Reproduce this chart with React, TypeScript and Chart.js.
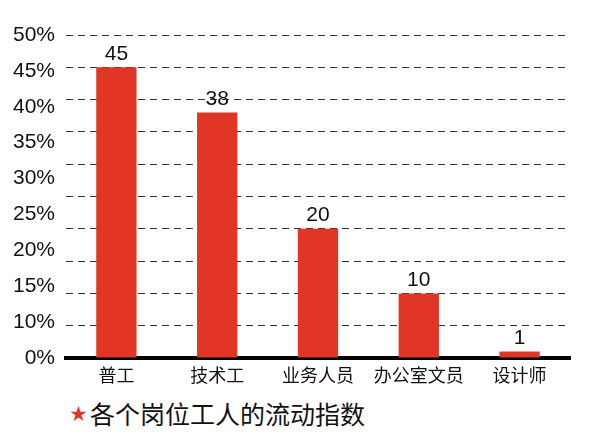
import React, { useEffect, useRef } from 'react';
import { Chart, registerables } from 'chart.js';

Chart.register(...registerables);

const categories = ['普工', '技术工', '业务人员', '办公室文员', '设计师'];
const values = [45, 38, 20, 10, 1];
const valueLabels = ['45', '38', '20', '10', '1'];
// tick labels as printed on the left side (evenly spaced, no 5%)
const yTickLabels = ['0%', '10%', '15%', '20%', '25%', '30%', '35%', '40%', '45%', '50%'];
const title = '各个岗位工人的流动指数';

const barColor = '#e13526';

const valueLabelPlugin = {
  id: 'valueLabels',
  afterDatasetsDraw(chart: Chart) {
    const ctx = chart.ctx;
    const meta = chart.getDatasetMeta(0);
    ctx.save();
    ctx.font = '21px "Liberation Sans", Arial, sans-serif';
    ctx.fillStyle = '#111';
    ctx.textAlign = 'center';
    ctx.textBaseline = 'bottom';
    meta.data.forEach((bar: any, i: number) => {
      ctx.fillText(valueLabels[i], bar.x, bar.y - 3);
    });
    ctx.restore();
  },
};

export default function App() {
  const ref = useRef<HTMLCanvasElement>(null);
  const chartRef = useRef<Chart | null>(null);

  useEffect(() => {
    document.body.style.margin = '0';
    if (!ref.current) return;
    const ctx = ref.current.getContext('2d');
    if (!ctx) return;

    chartRef.current?.destroy();
    chartRef.current = new Chart(ctx, {
      type: 'bar',
      data: {
        labels: categories,
        datasets: [
          {
            data: values,
            backgroundColor: barColor,
            barPercentage: 0.4,
            categoryPercentage: 1,
            yAxisID: 'y',
          },
        ],
      },
      options: {
        responsive: false,
        animation: false,
        layout: { padding: { top: 35, right: 23, left: 0, bottom: 0 } },
        plugins: {
          legend: { display: false },
          tooltip: { enabled: false },
        },
        scales: {
          x: {
            grid: { display: false, drawTicks: false },
            border: { display: true, color: '#000', width: 4 },
            ticks: {
              padding: 6,
              color: '#111',
              font: { family: '"Noto Sans CJK SC", sans-serif', size: 18 },
            },
            afterFit(scale: any) {
              scale.height = 32;
            },
          },
          yLabels: {
            type: 'linear',
            position: 'left',
            min: 0,
            max: 9,
            grid: { display: false, drawTicks: false },
            border: { display: false },
            ticks: {
              stepSize: 1,
              padding: 11,
              color: '#111',
              font: { family: '"Liberation Sans", Arial, sans-serif', size: 21 },
              callback: (v: any) => yTickLabels[v] ?? '',
            },
            afterFit(scale: any) {
              scale.width = 66;
            },
          },
          y: {
            type: 'linear',
            position: 'left',
            min: 0,
            max: 50,
            ticks: { stepSize: 5, display: false },
            grid: { color: '#333', lineWidth: 1, drawTicks: false, borderDash: [7, 5] } as any,
            border: { display: false, dash: [7, 5] },
            afterFit(scale: any) {
              scale.width = 0;
            },
          },
        },
      },
      plugins: [valueLabelPlugin],
    });

    return () => chartRef.current?.destroy();
  }, []);

  return (
    <div style={{ position: 'relative', width: 593, height: 443, background: '#fff' }}>
      <canvas ref={ref} width={593} height={390} style={{ position: 'absolute', left: 0, top: 0 }}></canvas>
      <div
        style={{
          position: 'absolute',
          left: 70,
          top: 396,
          fontFamily: '"Noto Sans CJK SC", sans-serif',
          fontSize: 25,
          lineHeight: '26px',
          color: '#111',
          whiteSpace: 'nowrap',
        }}
      >
        <span style={{ color: barColor, fontSize: 17, verticalAlign: 'middle', marginRight: 3 }}>★</span>
        <span style={{ verticalAlign: 'middle' }}>{title}</span>
      </div>
    </div>
  );
}
